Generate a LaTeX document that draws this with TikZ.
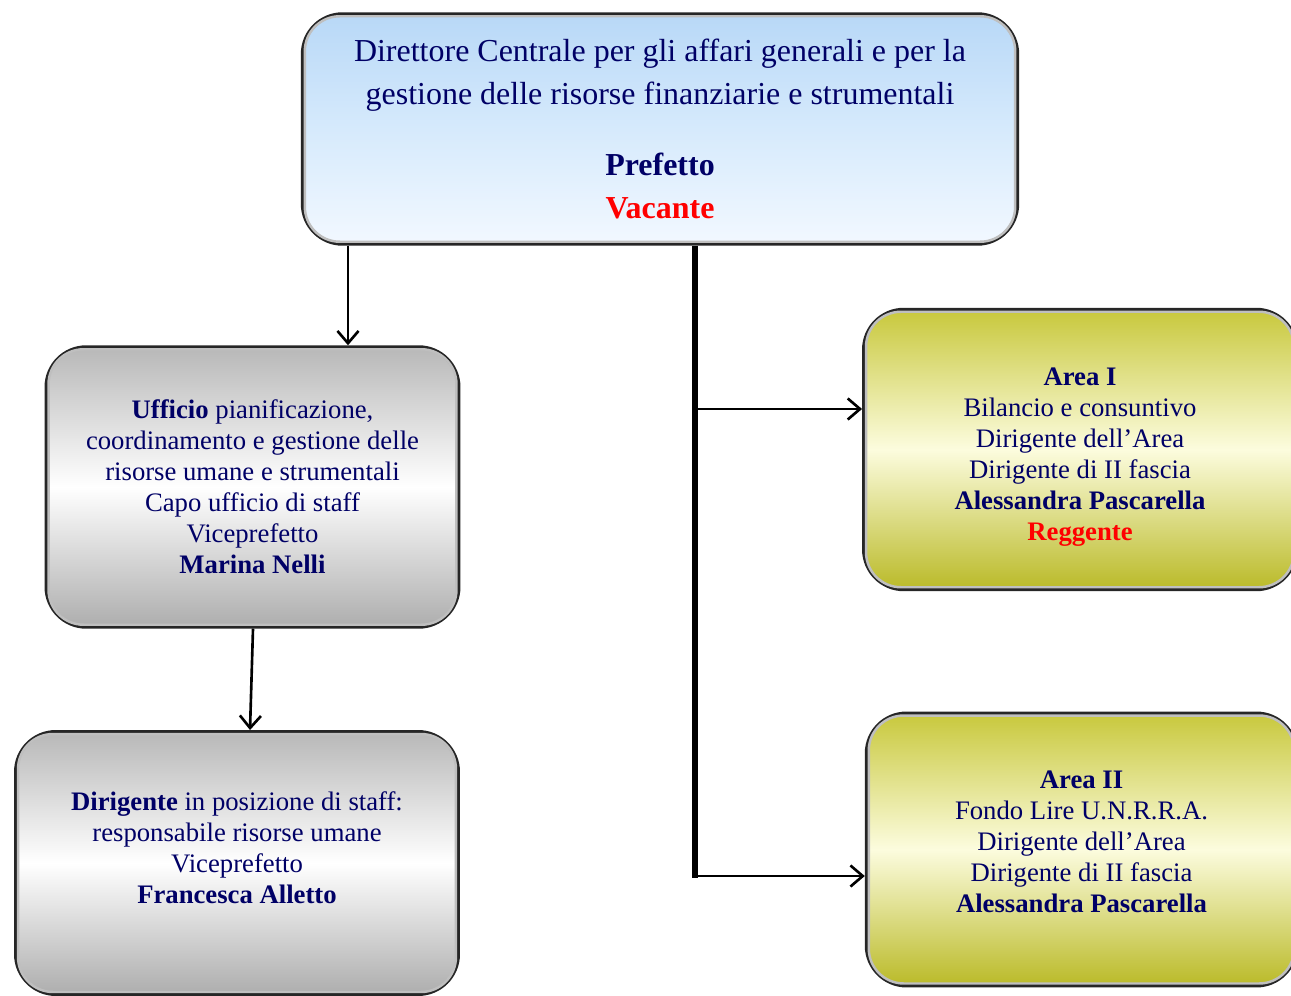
\documentclass[tikz,border=0pt]{standalone}
\usepackage{fontspec}
\setmainfont{Liberation Serif}
\usetikzlibrary{arrows.meta}
\definecolor{navy}{RGB}{0,0,102}
\definecolor{skytop}{RGB}{184,216,247}
\definecolor{skymid}{RGB}{214,234,252}
\definecolor{skybot}{RGB}{242,248,255}
\definecolor{oltop}{RGB}{200,200,60}
\definecolor{olmid}{RGB}{252,252,222}
\definecolor{olbot}{RGB}{186,186,40}
\begin{document}
\begin{tikzpicture}[x=0.02cm, y=-0.02cm,
		bl/.style = {rectangle, rounded corners=0.8cm, draw=black!85, line width=2pt,
			top color=skytop, bottom color=skybot, middle color=skymid,
			text=navy, align=center, font=\fontsize{18.2}{24.5}\selectfont},
		gr/.style = {rectangle, rounded corners=0.8cm, draw=black!85, line width=2pt,
			top color=black!28, bottom color=black!32, middle color=white,
			text=navy, align=center, font=\fontsize{15.2}{17.6}\selectfont},
		ye/.style = {rectangle, rounded corners=0.8cm, draw=black!85, line width=2pt,
			top color=oltop, bottom color=olbot, middle color=olmid,
			text=navy, align=center, font=\fontsize{15.2}{17.6}\selectfont},
		bv/.style = {draw=white!75!black, line width=1.4pt, rounded corners=0.7cm},
		ar/.style = {-{Straight Barb[length=7pt, width=12pt]}, line width=1.5pt},
		sp/.style = {line width=3.4pt}
		]
		\useasboundingbox (0,0) rectangle (1291,996);
		
		\node[bl, minimum width=14.3cm, minimum height=4.6cm]	(dc)	at	(660, 129)
			{Direttore Centrale per gli affari generali e per la\\
			 gestione delle risorse finanziarie e strumentali\\[16pt]
			 \textbf{Prefetto}\\
			 \textcolor{red}{\textbf{Vacante}}};
		
		\node[gr, minimum width=8.25cm, minimum height=5.6cm]	(uff)	at	(252.5, 487)
			{\textbf{Ufficio} pianificazione,\\
			 coordinamento e gestione delle\\
			 risorse umane e strumentali\\
			 Capo ufficio di staff\\
			 Viceprefetto\\
			 \textbf{Marina Nelli}};
		
		\node[gr, minimum width=8.85cm, minimum height=5.25cm]	(dir)	at	(237, 863)
			{\textbf{Dirigente} in posizione di staff:\\
			 responsabile risorse umane\\
			 Viceprefetto\\
			 \textbf{Francesca Alletto}\\
			 \mbox{}};
		
		\node[ye, minimum width=8.65cm, minimum height=5.6cm]	(a1)	at	(1080, 449.5)
			{\mbox{}\\[1.4pt]
			 \textbf{Area I}\\
			 Bilancio e consuntivo\\
			 Dirigente dell'Area\\
			 Dirigente di II fascia\\
			 \textbf{Alessandra Pascarella}\\
			 \textcolor{red}{\textbf{Reggente}}};
		
		\node[ye, minimum width=8.6cm, minimum height=5.45cm]	(a2)	at	(1081.5, 849.5)
			{\textbf{Area II}\\
			 Fondo Lire U.N.R.R.A.\\
			 Dirigente dell'Area\\
			 Dirigente di II fascia\\
			 \textbf{Alessandra Pascarella}\\[-8.6pt]
			 \mbox{}};
		
		% inner light rim
		\draw[bv]	([shift={(4,4)}]dc.north west)	rectangle	([shift={(-4,-4)}]dc.south east);
		\draw[bv]	([shift={(4,4)}]uff.north west)	rectangle	([shift={(-4,-4)}]uff.south east);
		\draw[bv]	([shift={(4,4)}]dir.north west)	rectangle	([shift={(-4,-4)}]dir.south east);
		\draw[bv]	([shift={(4,4)}]a1.north west)	rectangle	([shift={(-4,-4)}]a1.south east);
		\draw[bv]	([shift={(4,4)}]a2.north west)	rectangle	([shift={(-4,-4)}]a2.south east);
		
		% connectors
		\coordinate (c1)	at	(348, 0);
		\coordinate (c2)	at	(695, 878);
		\coordinate (c3)	at	(253, 0);
		\coordinate (c4)	at	(250, 0);
		\draw[ar]	(dc.south -| c1)	to	(uff.north -| c1);
		\draw[ar]	(uff.south -| c3)	to	(dir.north -| c4);
		\draw[sp]	(dc.south -| c2)	to	(c2);
		\draw[ar]	(c2 |- 0,409)	to	(a1.west |- 0,409);
		\draw[ar]	(c2 |- 0,876)	to	(a2.west |- 0,876);
\end{tikzpicture}
\end{document}
